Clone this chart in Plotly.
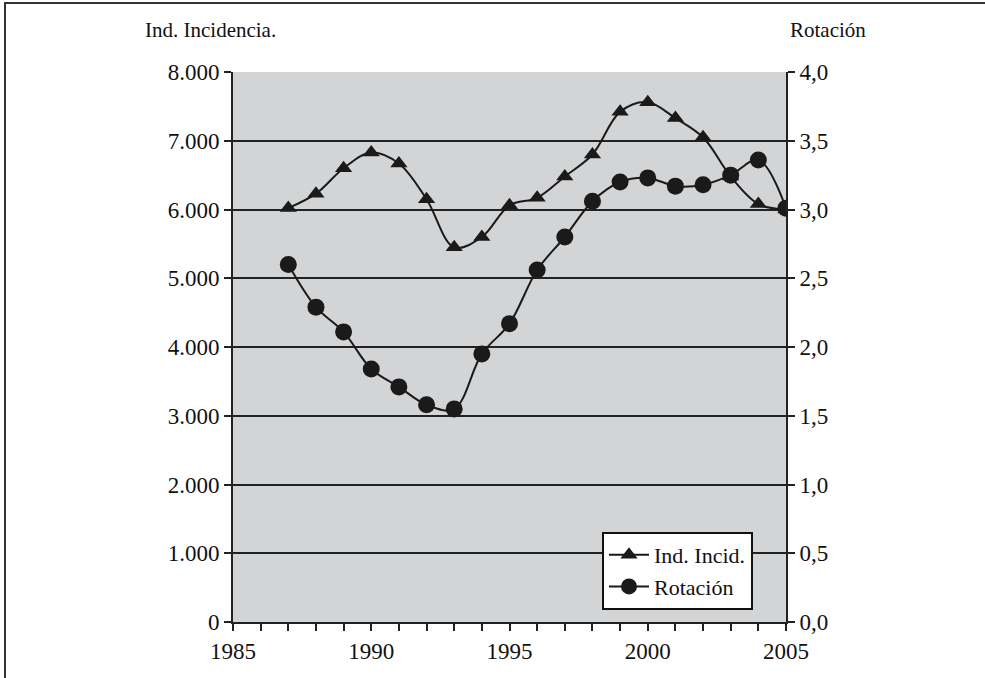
import plotly.graph_objects as go
from plotly.subplots import make_subplots

# Data
years = [1987, 1988, 1989, 1990, 1991, 1992, 1993, 1994, 1995, 1996,
         1997, 1998, 1999, 2000, 2001, 2002, 2003, 2004, 2005]
ind_incid = [6020, 6230, 6600, 6830, 6670, 6150, 5450, 5600, 6060, 6170,
             6480, 6800, 7420, 7560, 7330, 7050, 6480, 6080, 6000]
rotacion = [2.60, 2.29, 2.11, 1.84, 1.71, 1.58, 1.55, 1.95, 2.17, 2.56,
            2.80, 3.06, 3.20, 3.23, 3.17, 3.18, 3.25, 3.36, 3.01]

left_ticks = [0, 1000, 2000, 3000, 4000, 5000, 6000, 7000, 8000]
left_labels = ["0", "1.000", "2.000", "3.000", "4.000", "5.000", "6.000", "7.000", "8.000"]
right_ticks = [0, 0.5, 1, 1.5, 2, 2.5, 3, 3.5, 4]
right_labels = ["0,0", "0,5", "1,0", "1,5", "2,0", "2,5", "3,0", "3,5", "4,0"]

FONT = "Liberation Serif, Times New Roman, serif"
INK = "#1a1a1a"

# plot area in pixels
L, R, T, B = 233, 786, 72, 622
W, H = 985, 678
plot_w, plot_h = R - L, B - T


def px(x):
    return (x - L) / plot_w


def py(y):
    return (B - y) / plot_h


fig = make_subplots(specs=[[{"secondary_y": True}]])

fig.add_trace(
    go.Scatter(
        x=years, y=ind_incid, name="Ind. Incid.", mode="lines+markers",
        line=dict(color=INK, width=2, shape="spline", smoothing=1.0),
        marker=dict(symbol="triangle-up", size=15, color=INK),
    ),
    secondary_y=False,
)
fig.add_trace(
    go.Scatter(
        x=years, y=rotacion, name="Rotación", mode="lines+markers",
        line=dict(color=INK, width=2, shape="spline", smoothing=1.0),
        marker=dict(symbol="circle", size=17, color=INK),
    ),
    secondary_y=True,
)

fig.update_layout(
    width=W, height=H,
    margin=dict(l=L, r=W - R, t=T, b=H - B, autoexpand=False),
    paper_bgcolor="white",
    plot_bgcolor="#d3d4d6",
    font=dict(family=FONT, size=23, color="#111"),
    showlegend=True,
    legend=dict(
        x=px(602), y=py(532), xanchor="left", yanchor="top",
        bgcolor="white", bordercolor="#111", borderwidth=2,
        font=dict(family=FONT, size=22, color="#111"),
        tracegroupgap=0, itemwidth=40,
    ),
)

fig.add_annotation(text="Ind. Incidencia.", xref="paper", yref="paper",
                   x=px(278), y=py(30), xanchor="right", yanchor="middle",
                   showarrow=False, font=dict(family=FONT, size=21, color="#111"))
fig.add_annotation(text="Rotación", xref="paper", yref="paper",
                   x=px(868), y=py(30), xanchor="right", yanchor="middle",
                   showarrow=False, font=dict(family=FONT, size=21, color="#111"))

# page frame: only top and left edges are visible
fig.add_shape(type="line", xref="paper", yref="paper",
              x0=px(4), x1=px(W + 5), y0=py(3), y1=py(3),
              line=dict(color="#333", width=2))
fig.add_shape(type="line", xref="paper", yref="paper",
              x0=px(5), x1=px(5), y0=py(2), y1=py(H + 5),
              line=dict(color="#333", width=2))

fig.update_xaxes(
    domain=[0, 1],
    range=[1985, 2005], tickvals=[1985, 1990, 1995, 2000, 2005],
    ticks="outside", ticklen=7, tickwidth=2, tickcolor="#222",
    minor=dict(dtick=1, tick0=1985, ticks="outside", ticklen=7, tickwidth=2, tickcolor="#222"),
    showline=True, linecolor="#222", linewidth=2,
    showgrid=False, zeroline=False,
)
fig.update_yaxes(
    range=[0, 8000], tickvals=left_ticks, ticktext=left_labels,
    ticks="outside", ticklen=7, tickwidth=2, tickcolor="#222",
    showline=True, linecolor="#222", linewidth=2,
    showgrid=True, gridcolor="#222", gridwidth=1.5, zeroline=False,
    secondary_y=False,
)
fig.update_yaxes(
    range=[0, 4], tickvals=right_ticks, ticktext=right_labels,
    ticks="outside", ticklen=7, tickwidth=2, tickcolor="#222",
    showline=True, linecolor="#222", linewidth=2,
    showgrid=False, zeroline=False,
    secondary_y=True,
)

fig.write_html("out.html", config={"displayModeBar": False},
               post_script="document.body.style.margin='0px';")
